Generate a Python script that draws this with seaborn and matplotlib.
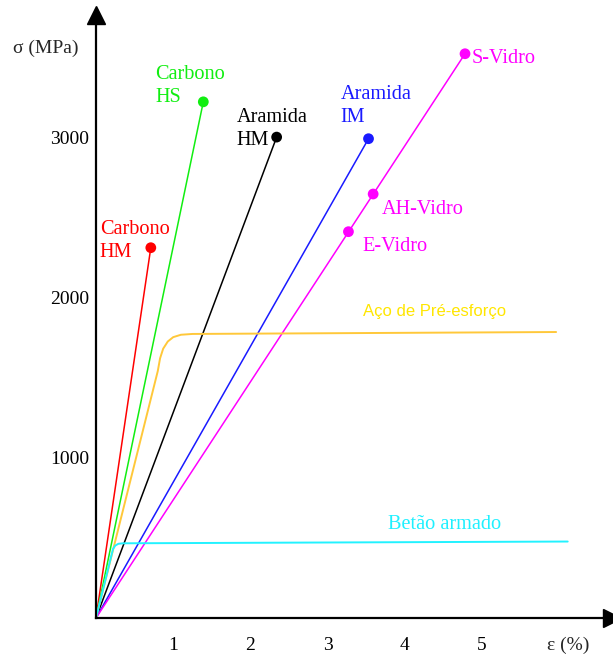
"""
Stress-strain diagram: fibres (FRP) vs prestressing steel and rebar.
"""
import matplotlib
matplotlib.use("Agg")  # headless backend
import matplotlib.pyplot as plt
import numpy as np
import pandas as pd
import seaborn as sns

# --- data (strain in %, stress in MPa) ---
fibre_names = ["Carbono\nHM", "Carbono\nHS", "Aramida\nHM", "Aramida\nIM",
               "E-Vidro", "AH-Vidro", "S-Vidro"]
fibre_family = ["CHM", "CHS", "AHM", "AIM", "Vidro", "Vidro", "Vidro"]
fibre_strain = [0.71, 1.39, 2.34, 3.53, 3.27, 3.59, 4.78]
fibre_stress = [2310, 3220, 3000, 2990, 2410, 2645, 3520]
fibre_colors = ["#ff0000", "#11ee11", "#000000", "#1a1aff",
                "#ff00ff", "#ff00ff", "#ff00ff"]

steel_strain = [0, 0.80, 0.83, 0.87, 0.93, 1.0, 1.1, 1.25, 5.96]
steel_stress = [0, 1540, 1620, 1680, 1725, 1752, 1767, 1772, 1784]

rebar_strain = [0, 0.22, 0.25, 0.29, 0.35, 6.11]
rebar_stress = [0, 430, 452, 463, 466, 477]

x_ticks = [1, 2, 3, 4, 5]
y_ticks = [1000, 2000, 3000]

# label offsets from each fibre end point (pixels): text left edge, block centre
label_offsets = [(-51, 7), (-48, 16), (-40, 8), (-28, 33),
                 (14, -15), (9, -15), (7, -5)]

sns.set_style("white")
plt.rcParams["font.family"] = ["Liberation Serif", "DejaVu Serif"]

W, H, DPI = 613, 657, 100
fig = plt.figure(figsize=(W / DPI, H / DPI), dpi=DPI)
x0, y0 = 96, 618          # origin in pixels
px_x, px_y = 77.2, 0.1603  # pixels per unit
x_end, y_top = 612, 15
ax = fig.add_axes([x0 / W, (H - y0) / H, (x_end - x0) / W, (y0 - y_top) / H])
ax.set_xlim(0, (x_end - x0) / px_x)
ax.set_ylim(0, (y0 - y_top) / px_y)

ends = pd.DataFrame({"material": fibre_names, "family": fibre_family,
                     "strain": fibre_strain, "stress": fibre_stress,
                     "color": fibre_colors})

# fibre lines: origin -> last failure point of each family
last = ends.sort_values("strain").groupby("family", sort=False).tail(1)
rows = []
for _, r in last.iterrows():
    rows.append({"family": r.family, "strain": 0.0, "stress": 0.0})
    rows.append({"family": r.family, "strain": r.strain, "stress": r.stress})
lines = pd.DataFrame(rows)
fam_palette = dict(zip(last.family, last.color))
sns.lineplot(data=lines, x="strain", y="stress", hue="family", palette=fam_palette,
             estimator=None, sort=False, linewidth=1.1, legend=False, ax=ax)

palette = dict(zip(fibre_names, fibre_colors))
sns.scatterplot(data=ends, x="strain", y="stress", hue="material", palette=palette,
                s=60, linewidth=0, legend=False, ax=ax, zorder=5)

# steels
steel = pd.DataFrame({"strain": steel_strain, "stress": steel_stress})
rebar = pd.DataFrame({"strain": rebar_strain, "stress": rebar_stress})
sns.lineplot(data=steel, x="strain", y="stress", color="#ffc83a",
             estimator=None, sort=False, linewidth=1.4, ax=ax)
sns.lineplot(data=rebar, x="strain", y="stress", color="#22f2ff",
             estimator=None, sort=False, linewidth=1.4, ax=ax)

# labels
for name, e, s, c, (dx, dy) in zip(fibre_names, fibre_strain, fibre_stress,
                                   fibre_colors, label_offsets):
    ax.annotate(name, (e, s), xytext=(dx, dy), textcoords="offset pixels",
                color=c, fontsize=14.6, ha="left", va="center", linespacing=1.28)
ax.text(3.46, 1909, "Aço de Pré-esforço", color="#ffe600", fontsize=12,
        family="Liberation Sans", ha="left", va="center")
ax.text(3.78, 586, "Betão armado", color="#1ff0ff", fontsize=14.6,
        ha="left", va="center")

# axes styling
for side in ["top", "right"]:
    ax.spines[side].set_visible(False)
for side in ["left", "bottom"]:
    ax.spines[side].set_linewidth(1.6)
    ax.spines[side].set_color("black")
ax.set_xticks(x_ticks)
ax.set_yticks(y_ticks)
ax.set_xticklabels([str(t) for t in x_ticks])
ax.set_yticklabels([str(t) for t in y_ticks])
ax.tick_params(axis="both", direction="in", length=3, width=0.6,
               labelsize=14, colors="black")
ax.tick_params(axis="x", pad=14)
ax.tick_params(axis="y", pad=5)
ax.set_xlabel("")
ax.set_ylabel("")

# arrow heads at the axis ends
ax.plot([0], [1], marker="^", markersize=13, color="black",
        transform=ax.transAxes, clip_on=False)
ax.plot([1], [0], marker=">", markersize=13, color="black",
        transform=ax.transAxes, clip_on=False)

fig.text(13 / W, 1 - 48 / H, "σ (MPa)", fontsize=14, ha="left", va="center")
fig.text(547 / W, 1 - 645 / H, "ε (%)", fontsize=14, ha="left", va="center")

fig.savefig("out.png", dpi=DPI)
